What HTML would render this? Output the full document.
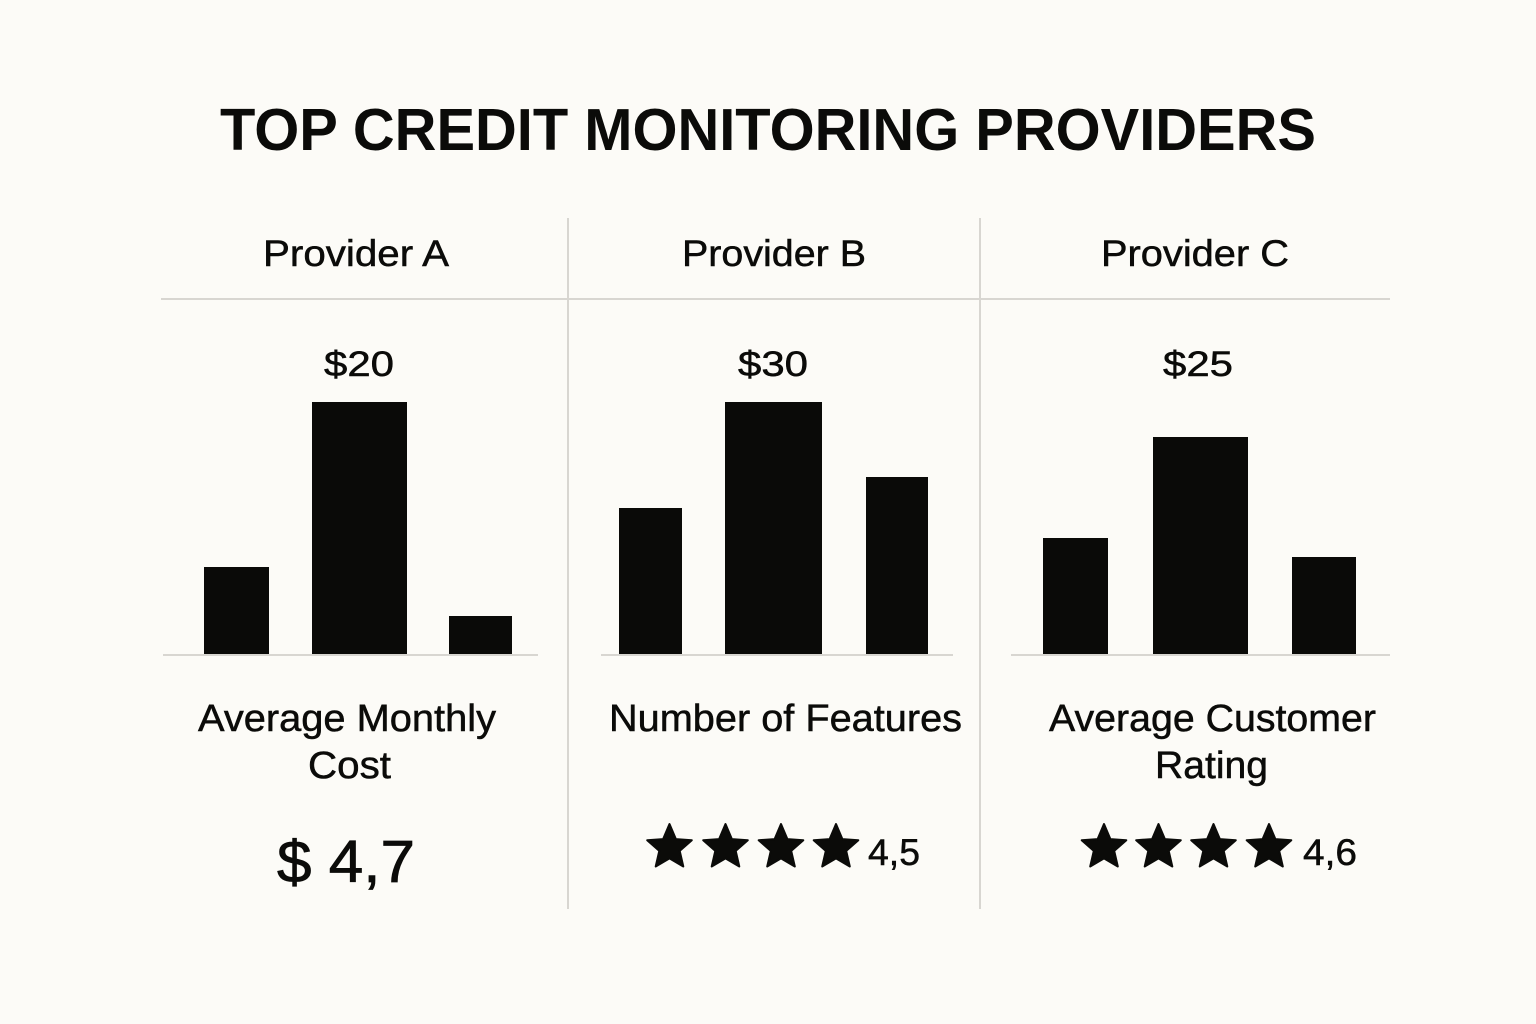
<!DOCTYPE html>
<html>
<head>
<meta charset="utf-8">
<style>
html,body{margin:0;padding:0;background:#fcfbf7;}
svg{display:block;}
text{font-family:"Liberation Sans","DejaVu Sans",sans-serif;fill:#0b0b09;}
.m{stroke:#0b0b09;stroke-width:0.5;}
</style>
</head>
<body>
<svg width="1536" height="1024" viewBox="0 0 1536 1024" xmlns="http://www.w3.org/2000/svg">
<defs>
<path id="star" d="M0,-23.5 L6.4,-8.4 L22.3,-7.3 L10.2,3.4 L13.8,19 L0,10.9 L-13.8,19 L-10.2,3.4 L-22.3,-7.3 L-6.4,-8.4 Z" fill="#0b0b09" stroke="#0b0b09" stroke-width="2" stroke-linejoin="round"/>
</defs>
<rect width="1536" height="1024" fill="#fcfbf7"/>

<!-- Title -->
<text x="220" y="150" font-size="59" font-weight="bold" textLength="1096" lengthAdjust="spacingAndGlyphs">TOP CREDIT MONITORING PROVIDERS</text>

<!-- grid lines -->
<line x1="161" y1="299" x2="1390" y2="299" stroke="#d8d6d1" stroke-width="2"/>
<line x1="568" y1="218" x2="568" y2="909" stroke="#d8d6d1" stroke-width="2"/>
<line x1="980" y1="218" x2="980" y2="909" stroke="#d8d6d1" stroke-width="2"/>

<!-- Provider headers -->
<text class="m" x="263" y="266" font-size="37" textLength="186" lengthAdjust="spacingAndGlyphs">Provider A</text>
<text class="m" x="682" y="266" font-size="37" textLength="184" lengthAdjust="spacingAndGlyphs">Provider B</text>
<text class="m" x="1101" y="266" font-size="37" textLength="188" lengthAdjust="spacingAndGlyphs">Provider C</text>

<!-- values -->
<text class="m" x="324" y="376" font-size="35" textLength="70" lengthAdjust="spacingAndGlyphs">$20</text>
<text class="m" x="738" y="376" font-size="35" textLength="70" lengthAdjust="spacingAndGlyphs">$30</text>
<text class="m" x="1163" y="376" font-size="35" textLength="70" lengthAdjust="spacingAndGlyphs">$25</text>

<!-- baselines -->
<line x1="163" y1="655" x2="538" y2="655" stroke="#d8d6d1" stroke-width="2"/>
<line x1="601" y1="655" x2="953" y2="655" stroke="#d8d6d1" stroke-width="2"/>
<line x1="1011" y1="655" x2="1390" y2="655" stroke="#d8d6d1" stroke-width="2"/>

<!-- Bars A -->
<rect x="204" y="567" width="65" height="87" fill="#0a0a08"/>
<rect x="312" y="402" width="95" height="252" fill="#0a0a08"/>
<rect x="449" y="616" width="63" height="38" fill="#0a0a08"/>
<!-- Bars B -->
<rect x="619" y="508" width="63" height="146" fill="#0a0a08"/>
<rect x="725" y="402" width="97" height="252" fill="#0a0a08"/>
<rect x="866" y="477" width="62" height="177" fill="#0a0a08"/>
<!-- Bars C -->
<rect x="1043" y="538" width="65" height="116" fill="#0a0a08"/>
<rect x="1153" y="437" width="95" height="217" fill="#0a0a08"/>
<rect x="1292" y="557" width="64" height="97" fill="#0a0a08"/>

<!-- Metric labels -->
<text class="m" x="198" y="731" font-size="38" textLength="298" lengthAdjust="spacingAndGlyphs">Average Monthly</text>
<text class="m" x="308" y="778" font-size="38" textLength="83" lengthAdjust="spacingAndGlyphs">Cost</text>
<text class="m" x="609" y="731" font-size="38" textLength="353" lengthAdjust="spacingAndGlyphs">Number of Features</text>
<text class="m" x="1049" y="731" font-size="38" textLength="327" lengthAdjust="spacingAndGlyphs">Average Customer</text>
<text class="m" x="1155" y="778" font-size="38" textLength="113" lengthAdjust="spacingAndGlyphs">Rating</text>

<!-- bottom values -->
<text x="277" y="882" font-size="59" textLength="138" lengthAdjust="spacingAndGlyphs" stroke="#0b0b09" stroke-width="0.8">$ 4,7</text>

<use href="#star" x="669.5" y="847.5"/>
<use href="#star" x="725.5" y="847.5"/>
<use href="#star" x="781" y="847.5"/>
<use href="#star" x="836" y="847.5"/>
<text class="m" x="868" y="865" font-size="37" textLength="52" lengthAdjust="spacingAndGlyphs">4,5</text>

<use href="#star" x="1104" y="847.5"/>
<use href="#star" x="1158.5" y="847.5"/>
<use href="#star" x="1213.5" y="847.5"/>
<use href="#star" x="1269" y="847.5"/>
<text class="m" x="1303" y="865" font-size="37" textLength="54" lengthAdjust="spacingAndGlyphs">4,6</text>
</svg>
</body>
</html>
